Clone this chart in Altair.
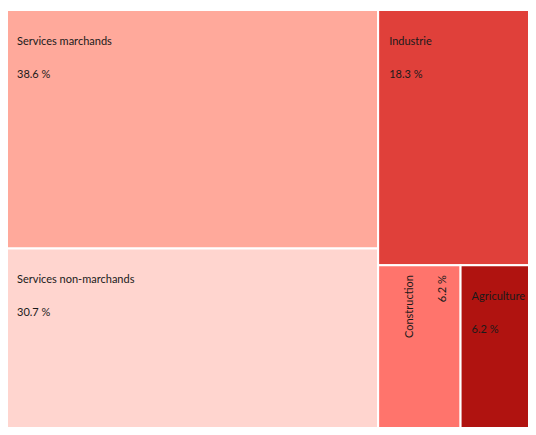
import altair as alt
import pandas as pd

# ---- data ----
categories = ["Services marchands", "Services non-marchands", "Industrie", "Construction", "Agriculture"]
shares = [38.6, 30.7, 18.3, 6.2, 6.2]
colors = ["#FFA99B", "#FFD5CF", "#E0403A", "#FF746C", "#B01310"]
rotated = [False, False, False, True, False]
# hierarchy used for the slice-and-dice layout (indices into categories)
tree = [[0, 1], [2, [3, 4]]]


def total(node):
    if isinstance(node, int):
        return shares[node]
    return sum(total(n) for n in node)


boxes = {}


def layout(node, x0, y0, x1, y1, horizontal):
    if isinstance(node, int):
        boxes[node] = (x0, y0, x1, y1)
        return
    t = total(node)
    pos = x0 if horizontal else y0
    for child in node:
        frac = total(child) / t
        if horizontal:
            nxt = pos + (x1 - x0) * frac
            layout(child, pos, y0, nxt, y1, not horizontal)
        else:
            nxt = pos + (y1 - y0) * frac
            layout(child, x0, pos, x1, nxt, not horizontal)
        pos = nxt


layout(tree, 0.0, 0.0, 1.0, 1.0, True)

rows = []
for i, c in enumerate(categories):
    x0, y0, x1, y1 = boxes[i]
    rows.append({
        "cat": c, "share": shares[i], "label": f"{shares[i]:.1f} %",
        "x0": x0, "x1": x1, "y0": y0, "y1": y1, "rot": rotated[i],
    })
df = pd.DataFrame(rows)

# the treemap is wider/taller than the page: only part of it is in view
FULL_W, FULL_H = 537, 428
W, H = 520, 417
xs = alt.Scale(domain=[2 / FULL_W, (2 + W) / FULL_W], nice=False, zero=False)
ys = alt.Scale(domain=[0, H / FULL_H], nice=False, zero=False, reverse=True)

base = alt.Chart(df)

rects = base.mark_rect(stroke="white", strokeWidth=2, clip=True).encode(
    x=alt.X("x0:Q", axis=None, scale=xs),
    x2="x1:Q",
    y=alt.Y("y0:Q", axis=None, scale=ys),
    y2="y1:Q",
    color=alt.Color("cat:N", scale=alt.Scale(domain=categories, range=colors), legend=None),
)

FONT = "Lato"
FS = 11
TXT = "#1a1a1a"

pos = dict(x=alt.X("x0:Q", scale=xs, axis=None), y=alt.Y("y0:Q", scale=ys, axis=None))

h_name = base.transform_filter("!datum.rot").mark_text(
    align="left", baseline="alphabetic", dx=11, dy=35, font=FONT, fontSize=FS, color=TXT
).encode(text="cat:N", **pos)
h_val = base.transform_filter("!datum.rot").mark_text(
    align="left", baseline="alphabetic", dx=11, dy=68, font=FONT, fontSize=FS, color=TXT
).encode(text="label:N", **pos)
r_name = base.transform_filter("datum.rot").mark_text(
    align="right", baseline="alphabetic", angle=270, dx=-10, dy=35, font=FONT, fontSize=FS, color=TXT
).encode(text="cat:N", **pos)
r_val = base.transform_filter("datum.rot").mark_text(
    align="right", baseline="alphabetic", angle=270, dx=-10, dy=68, font=FONT, fontSize=FS, color=TXT
).encode(text="label:N", **pos)

chart = alt.layer(rects, h_name, h_val, r_name, r_val).properties(
    width=W, height=H,
    padding={"left": 0, "top": 2, "right": 0, "bottom": 0},
    autosize="none",
).configure_view(stroke=None)

chart.save("out.html", embed_options={"renderer": "svg", "actions": False})
